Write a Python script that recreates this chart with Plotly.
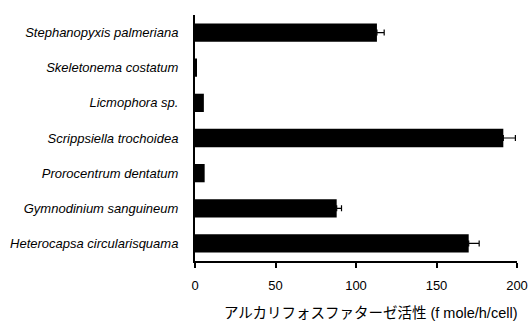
import plotly.graph_objects as go

# Species (top to bottom) and alkaline phosphatase activity (f mole/h/cell)
species = [
    "Stephanopyxis palmeriana",
    "Skeletonema costatum",
    "Licmophora sp.",
    "Scrippsiella trochoidea",
    "Prorocentrum dentatum",
    "Gymnodinium sanguineum",
    "Heterocapsa circularisquama",
]
activity = [113, 1, 5.5, 191.5, 6, 88, 170]
activity_err = [4.5, 0, 0, 7.5, 0, 3, 6.5]

x_ticks = [0, 50, 100, 150, 200]
x_title = "アルカリフォスファターゼ活性 (f mole/h/cell)"

fig = go.Figure(
    go.Bar(
        y=species,
        x=activity,
        orientation="h",
        marker=dict(color="black", line=dict(width=0)),
        width=0.52,
    )
)

# Upper error bars only where a deviation was reported
with_err = [i for i, e in enumerate(activity_err) if e > 0]
fig.add_trace(
    go.Scatter(
        y=[species[i] for i in with_err],
        x=[activity[i] for i in with_err],
        mode="markers",
        marker=dict(size=1, color="rgba(0,0,0,0)"),
        error_x=dict(
            type="data",
            array=[activity_err[i] for i in with_err],
            symmetric=False,
            arrayminus=[0] * len(with_err),
            color="black",
            thickness=1.2,
            width=3,
        ),
        hoverinfo="skip",
    )
)

fig.update_layout(
    width=531,
    height=322,
    margin=dict(l=195, r=14, t=15, b=61),
    plot_bgcolor="white",
    paper_bgcolor="white",
    showlegend=False,
    font=dict(family="Liberation Sans, Arial, sans-serif", color="black", size=13),
)

fig.update_yaxes(
    categoryorder="array",
    categoryarray=species,
    autorange="reversed",
    automargin=False,
    showline=True,
    linecolor="black",
    linewidth=2,
    ticks="",
    showgrid=False,
    zeroline=False,
    ticklabelstandoff=12,
    tickfont=dict(family="Liberation Sans, Arial, sans-serif", size=13, style="italic"),
)

fig.update_xaxes(
    range=[0, 200],
    tickvals=x_ticks,
    ticktext=[str(v) for v in x_ticks],
    automargin=False,
    showline=True,
    linecolor="black",
    linewidth=2,
    ticks="outside",
    ticklen=5,
    tickwidth=2,
    tickcolor="black",
    showgrid=False,
    zeroline=False,
    ticklabelstandoff=6,
    tickfont=dict(size=13),
)

fig.add_annotation(
    text=x_title,
    xref="paper",
    yref="paper",
    x=0.5,
    xshift=14,
    y=0,
    yshift=-52,
    yanchor="middle",
    showarrow=False,
    font=dict(family="Liberation Sans, Noto Sans CJK JP, sans-serif", size=14.5, color="black"),
)

fig.write_html("out.html")
